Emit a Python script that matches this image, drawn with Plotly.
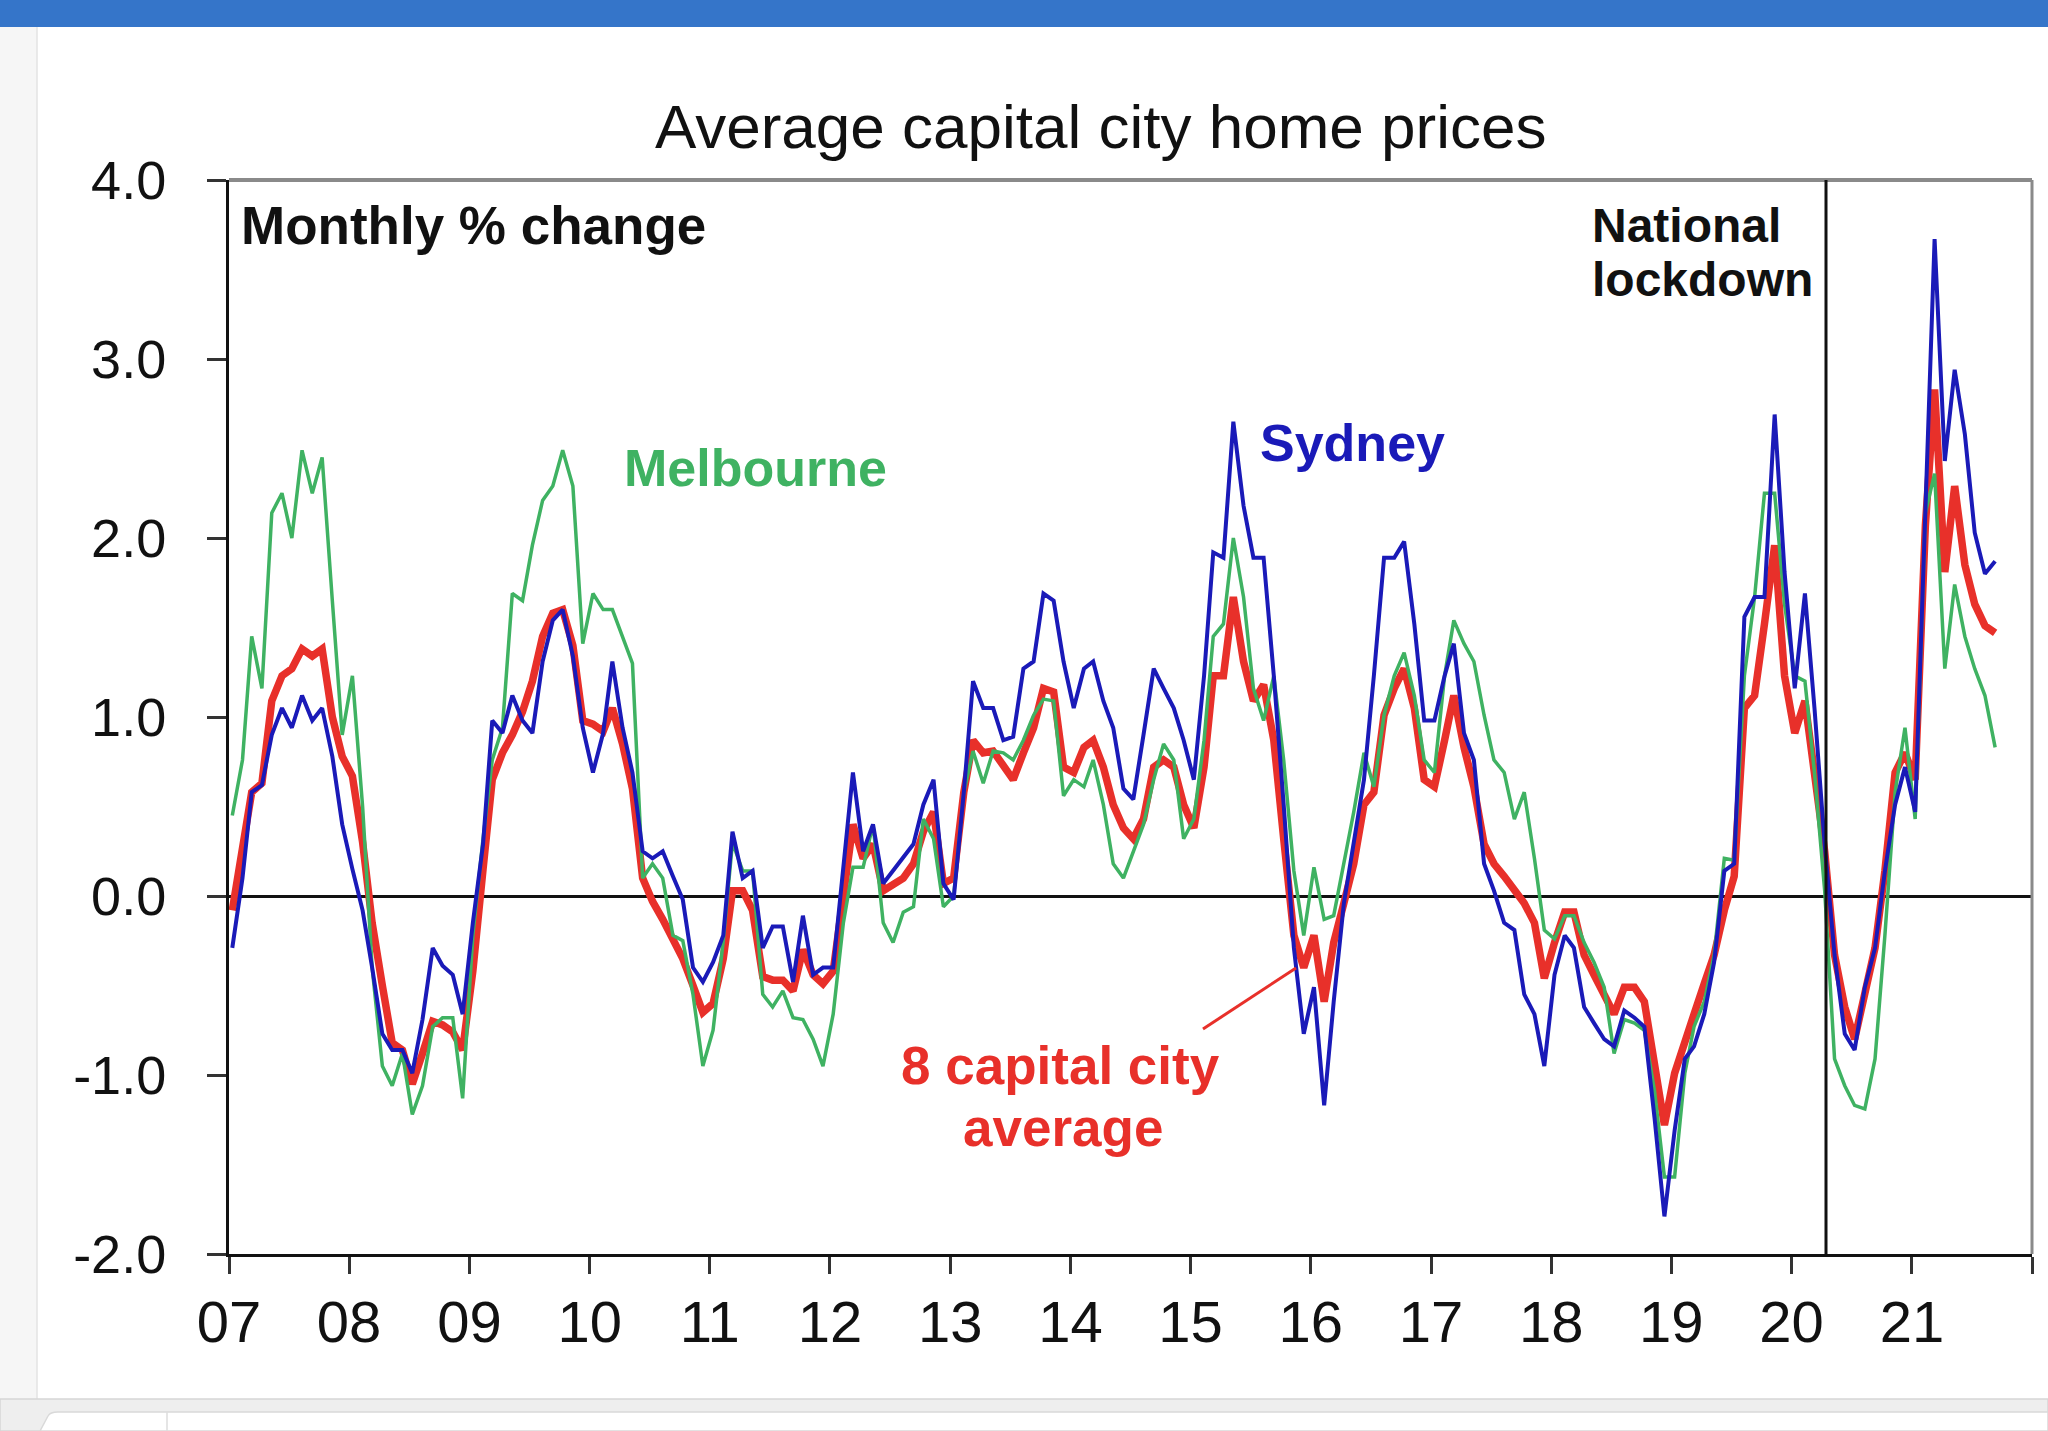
import pandas as pd
import plotly.graph_objects as go

# ---------------- data (monthly % change, Jan-2007 .. Sep-2021) ----------------
start_month = "2007-01-01"

avg_8_capital = [
    -0.08, 0.30, 0.58, 0.63, 1.09, 1.23, 1.27, 1.38, 1.34, 1.38, 1.00, 0.78,   # 2007
    0.67, 0.30, -0.15, -0.50, -0.82, -0.86, -1.05, -0.88, -0.70, -0.72, -0.76, -0.86,  # 2008
    -0.42, 0.15, 0.65, 0.80, 0.90, 1.03, 1.20, 1.45, 1.58, 1.60, 1.40, 0.98,   # 2009
    0.96, 0.92, 1.05, 0.85, 0.60, 0.10, -0.03, -0.13, -0.24, -0.35, -0.50, -0.65,  # 2010
    -0.60, -0.35, 0.03, 0.03, -0.08, -0.45, -0.47, -0.47, -0.53, -0.30, -0.44, -0.49,  # 2011
    -0.42, -0.02, 0.40, 0.21, 0.29, 0.03, 0.07, 0.10, 0.18, 0.36, 0.47, 0.07,  # 2012
    0.10, 0.58, 0.87, 0.80, 0.81, 0.72, 0.65, 0.80, 0.94, 1.16, 1.14, 0.72,    # 2013
    0.69, 0.83, 0.87, 0.72, 0.51, 0.38, 0.32, 0.43, 0.72, 0.76, 0.72, 0.51,    # 2014
    0.38, 0.72, 1.23, 1.23, 1.67, 1.31, 1.09, 1.18, 0.87, 0.32, -0.22, -0.40,  # 2015
    -0.22, -0.59, -0.26, -0.04, 0.18, 0.51, 0.58, 1.01, 1.16, 1.27, 1.05, 0.65,  # 2016
    0.61, 0.87, 1.12, 0.83, 0.61, 0.29, 0.18, 0.11, 0.03, -0.04, -0.15, -0.46,  # 2017
    -0.26, -0.09, -0.09, -0.33, -0.44, -0.55, -0.66, -0.51, -0.51, -0.59, -0.95, -1.28,  # 2018
    -0.99, -0.80, -0.66, -0.49, -0.33, -0.08, 0.11, 1.05, 1.12, 1.52, 1.96, 1.23,  # 2019
    0.91, 1.09, 0.69, 0.25, -0.33, -0.62, -0.80, -0.55, -0.29, 0.14, 0.69, 0.80,  # 2020
    0.65, 2.07, 2.83, 1.81, 2.29, 1.85, 1.63, 1.51, 1.47,                      # 2021
]

sydney = [
    -0.29, 0.10, 0.58, 0.62, 0.90, 1.05, 0.94, 1.12, 0.98, 1.05, 0.78, 0.40,
    0.15, -0.08, -0.40, -0.77, -0.86, -0.86, -0.99, -0.69, -0.29, -0.39, -0.44, -0.66,
    -0.15, 0.29, 0.98, 0.91, 1.12, 0.98, 0.91, 1.31, 1.54, 1.60, 1.34, 0.94,
    0.69, 0.91, 1.31, 0.94, 0.69, 0.25, 0.21, 0.25, 0.11, -0.02, -0.40, -0.48,
    -0.37, -0.22, 0.36, 0.10, 0.14, -0.29, -0.17, -0.17, -0.48, -0.11, -0.44, -0.40,
    -0.40, 0.14, 0.69, 0.25, 0.40, 0.07, 0.14, 0.21, 0.29, 0.51, 0.65, 0.07,
    -0.02, 0.58, 1.20, 1.05, 1.05, 0.87, 0.89, 1.27, 1.31, 1.69, 1.65, 1.31,
    1.05, 1.27, 1.31, 1.09, 0.94, 0.60, 0.54, 0.90, 1.27, 1.16, 1.05, 0.87,
    0.65, 1.23, 1.92, 1.89, 2.65, 2.18, 1.89, 1.89, 1.23, 0.51, -0.29, -0.77,
    -0.51, -1.17, -0.59, -0.04, 0.29, 0.65, 1.23, 1.89, 1.89, 1.98, 1.52, 0.98,
    0.98, 1.23, 1.41, 0.91, 0.76, 0.18, 0.03, -0.15, -0.19, -0.55, -0.66, -0.95,
    -0.44, -0.22, -0.29, -0.62, -0.71, -0.80, -0.84, -0.64, -0.68, -0.73, -1.24, -1.79,
    -1.31, -0.91, -0.84, -0.66, -0.37, 0.14, 0.18, 1.56, 1.67, 1.67, 2.69, 1.81,
    1.16, 1.69, 1.05, 0.29, -0.33, -0.77, -0.86, -0.51, -0.29, 0.14, 0.51, 0.72,
    0.47, 2.14, 3.67, 2.43, 2.94, 2.58, 2.03, 1.80, 1.87,
]

melbourne = [
    0.45, 0.76, 1.45, 1.16, 2.14, 2.25, 2.00, 2.49, 2.25, 2.45, 1.65, 0.90,
    1.23, 0.50, -0.40, -0.95, -1.06, -0.88, -1.22, -1.06, -0.73, -0.68, -0.68, -1.13,
    -0.22, 0.32, 0.76, 0.94, 1.69, 1.65, 1.96, 2.21, 2.29, 2.49, 2.29, 1.41,
    1.69, 1.60, 1.60, 1.45, 1.30, 0.10, 0.18, 0.10, -0.22, -0.25, -0.55, -0.95,
    -0.75, -0.25, 0.30, 0.14, 0.14, -0.55, -0.62, -0.53, -0.68, -0.69, -0.80, -0.95,
    -0.66, -0.15, 0.16, 0.16, 0.40, -0.15, -0.26, -0.09, -0.06, 0.43, 0.32, -0.06,
    0.00, 0.58, 0.81, 0.63, 0.81, 0.80, 0.76, 0.87, 1.01, 1.10, 1.09, 0.56,
    0.65, 0.61, 0.76, 0.51, 0.18, 0.10, 0.25, 0.40, 0.65, 0.85, 0.76, 0.32,
    0.43, 0.87, 1.45, 1.52, 2.00, 1.67, 1.16, 0.98, 1.23, 0.76, 0.14, -0.22,
    0.16, -0.13, -0.11, 0.18, 0.47, 0.80, 0.61, 1.01, 1.23, 1.36, 1.12, 0.76,
    0.69, 1.23, 1.54, 1.41, 1.31, 1.01, 0.76, 0.69, 0.43, 0.58, 0.21, -0.19,
    -0.24, -0.11, -0.11, -0.26, -0.37, -0.51, -0.88, -0.69, -0.71, -0.75, -1.09, -1.57,
    -1.57, -0.99, -0.73, -0.59, -0.33, 0.21, 0.20, 1.23, 1.67, 2.25, 2.25, 1.63,
    1.23, 1.20, 0.69, 0.03, -0.91, -1.06, -1.17, -1.19, -0.91, -0.22, 0.58, 0.94,
    0.43, 2.14, 2.36, 1.27, 1.74, 1.45, 1.27, 1.12, 0.83,
]

year_ticks = [f"{y}-01-01" for y in range(2007, 2023)]
year_labels = ["07", "08", "09", "10", "11", "12", "13", "14", "15",
               "16", "17", "18", "19", "20", "21", ""]
y_ticks = [-2, -1, 0, 1, 2, 3, 4]
y_labels = ["-2.0", "-1.0", "0.0", "1.0", "2.0", "3.0", "4.0"]
lockdown_date = "2020-04-15"

# ---------------- figure ----------------
months = pd.date_range(start_month, periods=len(avg_8_capital), freq="MS") + pd.Timedelta(days=10)

W, H = 2048, 1431
L, R, T, B = 229, 16, 180, 177
PW, PH = W - L - R, H - T - B


def px(x):
    return (x - L) / PW


def py(y):
    return (H - B - y) / PH


FONT = "Liberation Sans, Arial, sans-serif"
RED, BLUE, GREEN = "#e8302a", "#1a1ab8", "#3fb262"

fig = go.Figure()
fig.add_trace(go.Scatter(x=months, y=avg_8_capital, mode="lines",
                         line=dict(color=RED, width=7.5), name="8 capital city average"))
fig.add_trace(go.Scatter(x=months, y=melbourne, mode="lines",
                         line=dict(color=GREEN, width=3.5), name="Melbourne"))
fig.add_trace(go.Scatter(x=months, y=sydney, mode="lines",
                         line=dict(color=BLUE, width=4), name="Sydney"))

shapes = [
    # screenshot chrome
    dict(type="rect", xref="paper", yref="paper", x0=px(0), x1=px(W), y0=py(27), y1=py(0),
         fillcolor="#3575c9", line=dict(width=0), layer="below"),
    dict(type="rect", xref="paper", yref="paper", x0=px(0), x1=px(37), y0=py(1399), y1=py(27),
         fillcolor="#f6f6f6", line=dict(width=0), layer="below"),
    dict(type="line", xref="paper", yref="paper", x0=px(37), x1=px(37), y0=py(1399), y1=py(27),
         line=dict(color="#e3e3e3", width=1.5), layer="below"),
    dict(type="rect", xref="paper", yref="paper", x0=px(0), x1=px(W), y0=py(H), y1=py(1399),
         fillcolor="#eeeeee", line=dict(color="#d6d6d6", width=1.5), layer="below"),
    dict(type="path", xref="paper", yref="paper",
         path=f"M {px(40)},{py(H)} L {px(48)},{py(1416)} Q {px(50)},{py(1412)} {px(58)},{py(1412)} "
              f"L {px(W)},{py(1412)} L {px(W)},{py(H)} Z",
         fillcolor="#ffffff", line=dict(color="#d9d9d9", width=1.5), layer="below"),
    dict(type="line", xref="paper", yref="paper", x0=px(167), x1=px(167), y0=py(H), y1=py(1412),
         line=dict(color="#dddddd", width=1.5), layer="below"),
    # chart frame top & right
    dict(type="line", xref="paper", yref="paper", x0=0, x1=1, y0=1, y1=1,
         line=dict(color="#8a8a8a", width=4)),
    dict(type="line", xref="paper", yref="paper", x0=1, x1=1, y0=0, y1=1,
         line=dict(color="#8a8a8a", width=3)),
    # national lockdown line
    dict(type="line", xref="x", yref="paper", x0=lockdown_date, x1=lockdown_date, y0=0, y1=1,
         line=dict(color="#111111", width=3)),
    # pointer to the average line
    dict(type="line", xref="paper", yref="paper", x0=px(1203), y0=py(1029), x1=px(1296), y1=py(968),
         line=dict(color=RED, width=3)),
]

annotations = [
    dict(text="Average capital city home prices", x=px(1100), y=py(126), xanchor="center",
         yanchor="middle", font=dict(family=FONT, size=62, color="#111111")),
    dict(text="<b>Monthly % change</b>", x=px(239), y=py(225), xanchor="left", yanchor="middle",
         font=dict(family=FONT, size=53, color="#111111")),
    dict(text="<b>National</b>", x=px(1590), y=py(225), xanchor="left", yanchor="middle",
         font=dict(family=FONT, size=48, color="#111111")),
    dict(text="<b>lockdown</b>", x=px(1590), y=py(279), xanchor="left", yanchor="middle",
         font=dict(family=FONT, size=48, color="#111111")),
    dict(text="<b>Melbourne</b>", x=px(622), y=py(468), xanchor="left", yanchor="middle",
         font=dict(family=FONT, size=52, color=GREEN)),
    dict(text="<b>Sydney</b>", x=px(1258), y=py(443), xanchor="left", yanchor="middle",
         font=dict(family=FONT, size=52, color=BLUE)),
    dict(text="<b>8 capital city</b>", x=px(1060), y=py(1065), xanchor="center", yanchor="middle",
         font=dict(family=FONT, size=53, color=RED)),
    dict(text="<b>average</b>", x=px(1063), y=py(1127), xanchor="center", yanchor="middle",
         font=dict(family=FONT, size=53, color=RED)),
]
for a in annotations:
    a.update(xref="paper", yref="paper", showarrow=False)

fig.update_layout(
    width=W, height=H,
    margin=dict(l=L, r=R, t=T, b=B, pad=0),
    paper_bgcolor="white", plot_bgcolor="white",
    showlegend=False,
    shapes=shapes, annotations=annotations,
    font=dict(family=FONT, color="#111111"),
    xaxis=dict(type="date", range=["2007-01-01", "2022-01-01"],
               tickvals=year_ticks, ticktext=year_labels,
               showgrid=False, zeroline=False,
               showline=True, linecolor="#111111", linewidth=3,
               ticks="outside", ticklen=17, tickwidth=3, tickcolor="#333333",
               ticklabelstandoff=-2,
               tickfont=dict(family=FONT, size=58, color="#111111")),
    yaxis=dict(range=[-2, 4], tickvals=y_ticks, ticktext=y_labels,
               showgrid=False, zeroline=True, zerolinecolor="#111111", zerolinewidth=2.5,
               showline=True, linecolor="#111111", linewidth=3,
               ticks="outside", ticklen=19, tickwidth=3, tickcolor="#333333",
               ticklabelstandoff=30,
               tickfont=dict(family=FONT, size=54, color="#111111")),
)

fig.write_html("out.html", config={"displayModeBar": False},
               post_script="document.body.style.margin='0';document.body.style.overflow='hidden';")
